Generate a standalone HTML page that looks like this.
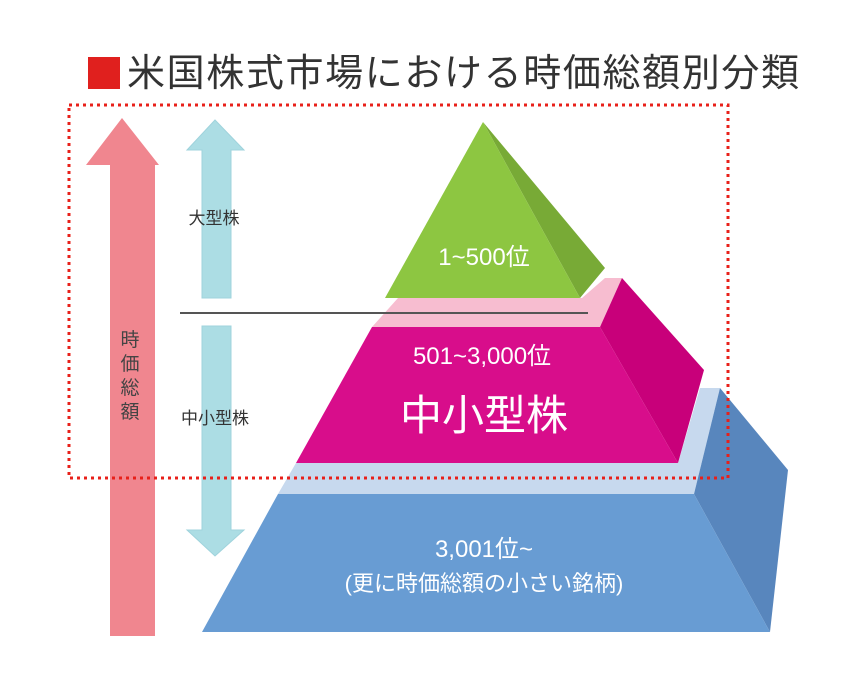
<!DOCTYPE html>
<html><head><meta charset="utf-8"><style>
html,body{margin:0;padding:0;background:#fff;}
body{width:850px;height:678px;overflow:hidden;}
text{font-family:"Liberation Sans","Noto Sans CJK JP",sans-serif;}
</style></head><body>
<svg width="850" height="678" viewBox="0 0 850 678" xmlns="http://www.w3.org/2000/svg">
<rect x="88" y="57" width="32" height="32" fill="#e0201e"/>
<text x="127" y="86" font-size="38" fill="#333" textLength="672" lengthAdjust="spacing">米国株式市場における時価総額別分類</text>
<!-- pink arrow -->
<polygon points="122,118 159,165 155,165 155,636 110,636 110,165 86,165" fill="#f0868f"/>
<text font-size="19" fill="#444" x="130" y="346" text-anchor="middle">時</text>
<text font-size="19" fill="#444" x="130" y="370" text-anchor="middle">価</text>
<text font-size="19" fill="#444" x="130" y="394" text-anchor="middle">総</text>
<text font-size="19" fill="#444" x="130" y="418" text-anchor="middle">額</text>
<!-- light blue arrows -->
<polygon points="215,120 244,150 231,150 231,298 202,298 202,150 187,150" fill="#acdde4" stroke="#9fd3dc" stroke-width="1"/>
<polygon points="202,326 231,326 231,530 244,530 215,556 187,530 202,530" fill="#acdde4" stroke="#9fd3dc" stroke-width="1"/>
<text x="214" y="224" font-size="17" fill="#333" text-anchor="middle">大型株</text>
<text x="215" y="424" font-size="17" fill="#333" text-anchor="middle">中小型株</text>
<!-- blue tier -->
<polygon points="296,463 678,463 700,388 720,388 694,494 278,494" fill="#c7d9ee"/>
<polygon points="694,494 720,388 788,470 770,632" fill="#5886bd"/>
<polygon points="278,494 694,494 770,632 202,632" fill="#689cd3"/>
<!-- magenta tier -->
<polygon points="398,298 582,298 605,278 622,278 600,327 372,327" fill="#f7bdd0"/>
<polygon points="600,327 622,278 704,370 678,463" fill="#c8007a"/>
<polygon points="372,327 600,327 678,463 296,463" fill="#d80d8b"/>
<!-- green tier -->
<polygon points="483,122 605,268 580,298" fill="#78aa36"/>
<polygon points="483,122 580,298 385,298" fill="#8dc641"/>
<line x1="180" y1="313" x2="588" y2="313" stroke="#555" stroke-width="2"/>
<!-- dotted box -->
<rect x="69" y="105" width="659" height="373" fill="none" stroke="#e8201a" stroke-width="3" stroke-dasharray="3,4"/>
<!-- labels -->
<text x="484" y="265" font-size="24" fill="#fff" text-anchor="middle">1~500位</text>
<text x="482" y="364" font-size="24" fill="#fff" text-anchor="middle">501~3,000位</text>
<text x="484" y="430" font-size="42" fill="#fff" text-anchor="middle">中小型株</text>
<text x="484" y="557" font-size="24" fill="#fff" text-anchor="middle">3,001位~</text>
<text x="484" y="591" font-size="22" fill="#fff" text-anchor="middle">(更に時価総額の小さい銘柄)</text>
</svg>
</body></html>
